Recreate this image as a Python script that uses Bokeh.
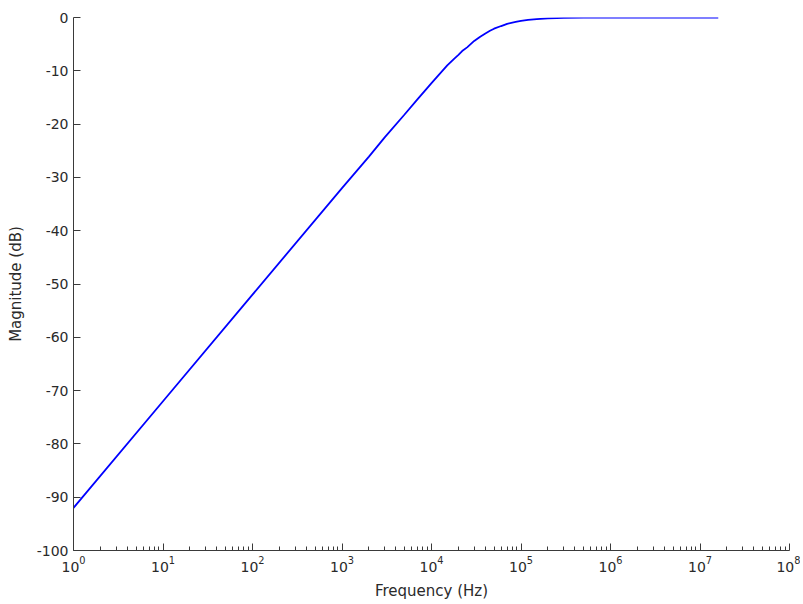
from bokeh.plotting import figure
from bokeh.models import Range1d, FixedTicker, PrintfTickFormatter
from bokeh.embed import file_html
from bokeh.resources import INLINE

# Data
freq_hz = [1, 10, 100, 1e3, 2e3, 3e3, 5e3, 7e3, 1e4, 1.2e4, 1.5e4, 1.8e4, 2e4,
           2.2e4, 2.5e4, 3e4, 3.5e4, 4e4, 4.5e4, 5e4, 6e4, 7e4, 8e4, 9e4,
           1e5, 1.2e5, 1.5e5, 2e5, 2.5e5, 3e5, 5e5, 1e6, 1e7, 1.6e7]
magnitude_db = [-92.0, -72.0, -52.0, -32.0, -26.1, -22.5, -18.2, -15.3, -12.3,
                -10.8, -9.0, -7.7, -7.0, -6.3, -5.6, -4.4, -3.6, -3.0, -2.5,
                -2.1, -1.6, -1.2, -0.95, -0.78, -0.65, -0.46, -0.3, -0.17,
                -0.11, -0.08, -0.03, -0.01, 0.0, 0.0]

x_major_ticks = [1e0, 1e1, 1e2, 1e3, 1e4, 1e5, 1e6, 1e7, 1e8]
x_minor_ticks = [m * d for d in x_major_ticks[:-1] for m in range(2, 10)]
y_ticks = [0, -10, -20, -30, -40, -50, -60, -70, -80, -90, -100]

FONT = "DejaVu Sans"
TXT = "#2a2a2a"
AX = "#3a3a3a"

p = figure(width=800, height=602, x_axis_type="log",
           x_range=Range1d(1, 1e8), y_range=Range1d(-100, 0),
           output_backend="svg", toolbar_location=None,
           min_border_left=73, min_border_right=11,
           min_border_top=17, min_border_bottom=52)
p.outline_line_color = None
p.xgrid.visible = False
p.ygrid.visible = False
p.background_fill_color = "white"
p.border_fill_color = "white"

p.line(freq_hz, magnitude_db, line_color="#0000ff", line_width=1.8)

xa = p.xaxis[0]
xa.ticker = FixedTicker(ticks=x_major_ticks, minor_ticks=x_minor_ticks)
xa.axis_label = "Frequency (Hz)"
ya = p.yaxis[0]
ya.ticker = FixedTicker(ticks=y_ticks)
ya.formatter = PrintfTickFormatter(format="%d")
ya.axis_label = "Magnitude (dB)"

for ax in (xa, ya):
    ax.axis_line_color = AX
    ax.axis_line_width = 1
    ax.major_tick_line_color = AX
    ax.minor_tick_line_color = AX
    ax.major_tick_in = 7
    ax.major_tick_out = 0
    ax.minor_tick_in = 4
    ax.minor_tick_out = 0
    ax.major_label_text_font = FONT
    ax.major_label_text_font_size = "14px"
    ax.major_label_text_color = TXT
    ax.axis_label_text_font = FONT
    ax.axis_label_text_font_size = "15px"
    ax.axis_label_text_font_style = "normal"
    ax.axis_label_text_color = TXT
    ax.major_label_standoff = 5

ya.minor_tick_line_color = None
ya.axis_label_standoff = 9
xa.axis_label_standoff = 7

open("out.html", "w").write(file_html(p, INLINE))
